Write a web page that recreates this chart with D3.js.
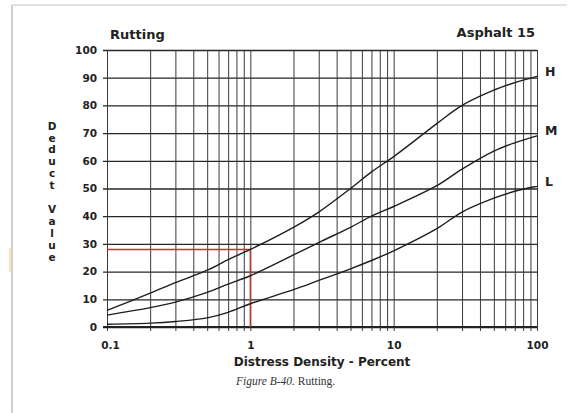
<!DOCTYPE html>
<html>
<head>
<meta charset="utf-8">
<script src="https://cdn.jsdelivr.net/npm/d3@7/dist/d3.min.js"></script>
<style>
  html, body { margin: 0; padding: 0; background: #fff; }
  svg { display: block; }
</style>
</head>
<body>
<svg id="chart" width="575" height="413"></svg>
<script>
// ---- data ----
const densities = [0.1, 0.2, 0.3, 0.5, 0.7, 1, 2, 3, 5, 7, 10, 20, 30, 50, 70, 100];
const seriesH = [6, 12.2, 16, 20.5, 24.3, 28, 36, 41.5, 50, 56, 61.5, 73.4, 80, 85.5, 88.2, 90.5];
const seriesM = [4.3, 7, 9, 12.5, 15.5, 18.5, 26, 30.5, 36, 40, 43.5, 51, 57, 63.5, 66.5, 69];
const seriesL = [1, 1.4, 2, 3.3, 5.3, 8.4, 13.5, 16.8, 21, 24, 27.5, 35.5, 41.5, 46.5, 49, 50.8];
const seriesNames = ["H", "M", "L"];
const yTicks = [0, 10, 20, 30, 40, 50, 60, 70, 80, 90, 100];
const xGrid = [0.1,0.2,0.3,0.4,0.5,0.6,0.7,0.8,0.9,1,2,3,4,5,6,7,8,9,10,20,30,40,50,60,70,80,90,100];
const xLabels = [0.1, 1, 10, 100];
const exampleDensity = 1;
const exampleDeduct = 28;
const yTitle = "Deduct Value";

const svg = d3.select("#chart");
const sans = "'DejaVu Sans', sans-serif";

// page frame
svg.append("line").attr("x1", 12).attr("x2", 567).attr("y1", 5).attr("y2", 5)
  .attr("stroke", "#e2e2e2").attr("stroke-width", 2);
svg.append("line").attr("x1", 12).attr("x2", 12).attr("y1", 5).attr("y2", 413)
  .attr("stroke", "#cfcfcf").attr("stroke-width", 2);
svg.append("rect").attr("x", 9).attr("y", 248).attr("width", 2.5).attr("height", 24)
  .attr("fill", "#f3dca0").attr("opacity", 0.8);

// scales
const x = d3.scaleLog().domain([0.1, 100]).range([107, 537]);
const y = d3.scaleLinear().domain([0, 100]).range([327, 50]);

// horizontal grid via left axis
const yAxis = d3.axisLeft(y).tickValues(yTicks).tickSize(-(537 - 103)).tickPadding(6)
  .tickFormat(d3.format("d"));
const gy = svg.append("g").attr("transform", "translate(103,0)").call(yAxis);
gy.select(".domain").remove();
gy.selectAll(".tick line").attr("stroke", "#262626").attr("stroke-width", 1.3);
gy.selectAll(".tick text").attr("font-family", sans).attr("font-weight", "bold")
  .attr("font-size", 10.5).attr("fill", "#222");

// vertical grid via bottom axis
const xAxis = d3.axisBottom(x).tickValues(xGrid).tickSize(-(331 - 50)).tickPadding(11)
  .tickFormat(d => xLabels.includes(d) ? String(d) : "");
const gx = svg.append("g").attr("transform", "translate(0,331)").call(xAxis);
gx.select(".domain").remove();
gx.selectAll(".tick line").attr("stroke", "#3a3a3a").attr("stroke-width", 1);
gx.selectAll(".tick text").attr("font-family", sans).attr("font-weight", "bold")
  .attr("font-size", 10.5).attr("fill", "#222");
gx.selectAll(".tick text").filter(d => d === 0.1).attr("dx", 3);

// bottom line thicker
svg.append("line").attr("x1", 103).attr("x2", 537).attr("y1", y(0)).attr("y2", y(0))
  .attr("stroke", "#222").attr("stroke-width", 1.8);

// red example lines
svg.append("path")
  .attr("d", `M${x(0.1)},${y(exampleDeduct)}H${x(exampleDensity)}V${y(0)}`)
  .attr("fill", "none").attr("stroke", "#c8322f").attr("stroke-width", 1.4);

// curves
const line = d3.line().x(d => x(d[0])).y(d => y(d[1])).curve(d3.curveCatmullRom.alpha(0.5));
const allSeries = [seriesH, seriesM, seriesL];
allSeries.forEach((s, i) => {
  const pts = densities.map((dd, j) => [dd, s[j]]);
  svg.append("path").attr("d", line(pts)).attr("fill", "none")
    .attr("stroke", "#1e1e1e").attr("stroke-width", 1.4);
  svg.append("text").attr("x", 545).attr("y", y(s[s.length - 1]) - 5)
    .attr("dy", "0.35em").attr("font-family", sans).attr("font-weight", "bold")
    .attr("font-size", 12.5).attr("fill", "#222").text(seriesNames[i]);
});

// titles
svg.append("text").attr("x", 110).attr("y", 39).attr("font-family", sans)
  .attr("font-weight", "bold").attr("font-size", 13).attr("fill", "#222").text("Rutting");
svg.append("text").attr("x", 535).attr("y", 37).attr("text-anchor", "end").attr("font-family", sans)
  .attr("font-weight", "bold").attr("font-size", 13).attr("fill", "#222").text("Asphalt 15");

// y title stacked
const chars = yTitle.split("");
const gt = svg.append("g");
chars.forEach((c, i) => {
  gt.append("text").attr("x", 52).attr("y", 126 + i * 11.9).attr("dy", "0.35em")
    .attr("text-anchor", "middle").attr("font-family", sans).attr("font-weight", "bold")
    .attr("font-size", 10.5).attr("fill", "#222").text(c);
});

// x title
svg.append("text").attr("x", 322).attr("y", 366).attr("text-anchor", "middle")
  .attr("font-family", sans).attr("font-weight", "bold").attr("font-size", 12)
  .attr("fill", "#222").text("Distress Density - Percent");

// caption
const cap = svg.append("text").attr("x", 236).attr("y", 385)
  .attr("font-family", "'Liberation Serif', serif").attr("font-size", 11.5).attr("fill", "#333");
cap.append("tspan").attr("font-style", "italic").text("Figure B-40.");
cap.append("tspan").text(" Rutting.");
</script>
</body>
</html>
